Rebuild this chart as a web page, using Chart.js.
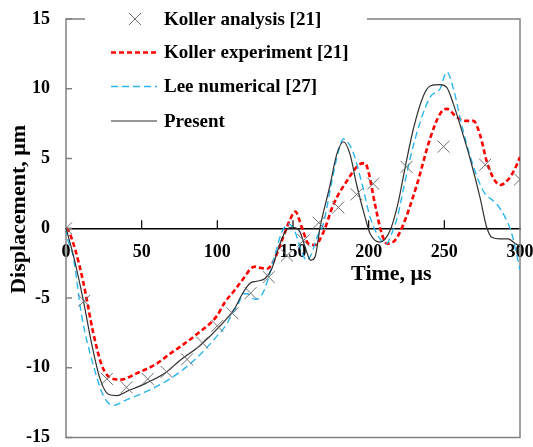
<!DOCTYPE html>
<html>
<head>
<meta charset="utf-8">
<script src="https://cdn.jsdelivr.net/npm/chart.js@4/dist/chart.umd.min.js"></script>
<style>
  html, body { margin: 0; padding: 0; background: #fff; }
  #plot { display: block; }
</style>
</head>
<body>
<canvas id="plot" width="533" height="447"></canvas>
<script>
"use strict";

const SERIF = "'Times New Roman', 'Liberation Serif', serif";

// axis ranges and ticks
const X_RANGE = [0, 300];
const X_STEP  = 50;
const Y_RANGE = [-15, 15];
const Y_STEP  = 5;

const SERIES_NAMES = ["Koller analysis [21]", "Koller experiment [21]", "Lee numerical [27]", "Present"];

// Koller analysis [21] (discrete points)
const kollerAnalysisT = [0, 12, 27, 40, 54, 66.5, 80, 90, 100, 110, 122, 134, 146, 157, 167, 180, 192, 203, 225, 249.5, 277, 300];
const kollerAnalysisU = [0, -5.2, -10.8, -11.4, -10.8, -10.3, -9.4, -8.2, -7.0, -6.1, -4.65, -3.5, -1.95, -0.87, 0.4, 1.5, 2.43, 3.2, 4.4, 5.85, 4.55, 3.5];

// Koller experiment [21]
const kollerExpT = [0, 1.5, 6, 11.5, 18, 23.6, 29, 35.7, 46.7, 60, 68.7, 75.3, 86.4, 99.6, 105, 111, 118, 122, 125, 129, 133, 137, 142.6, 148, 151.5, 155.8, 160.2, 164.6, 170, 176.7, 185.5, 194.3, 197.6, 199.8, 204.2, 208.7, 212, 217.4, 223, 231.8, 240.6, 247.2, 251.6, 258.2, 263.7, 269.2, 273.6, 278, 282.4, 286.8, 292.3, 296.8, 300];
const kollerExpU = [0, -0.15, -1.5, -3.9, -7.5, -9.8, -10.7, -10.85, -10.4, -9.7, -9.0, -8.5, -7.6, -6.3, -5.3, -4.5, -3.5, -2.9, -2.75, -2.85, -2.9, -2.4, -0.9, 0.6, 1.2, 0.07, -1.1, -1.2, -0.3, 1.7, 3.37, 4.6, 4.67, 4.08, 1.7, -0.4, -1.1, -0.87, 0.3, 3.1, 6.44, 8.2, 8.56, 7.97, 7.7, 7.7, 6.7, 4.8, 3.6, 3.1, 3.5, 4.3, 5.1];

// Lee numerical [27]
const leeT = [0, 0.4, 4.8, 10.4, 18, 24.7, 31.3, 40, 53.3, 68.7, 80, 90, 100, 106, 110, 113.9, 117.2, 120, 124.9, 129.3, 133.7, 138, 142.6, 147, 151.4, 155.8, 159, 162, 166, 170, 175, 180, 183.3, 186, 189.9, 195.8, 201, 207.5, 212, 214, 219, 222, 227.4, 234, 240.6, 247.2, 251.6, 256, 261.5, 268.1, 275.8, 284.7, 290.2, 294.6, 300];
const leeU = [0, -0.4, -2.05, -6.3, -9.8, -12.0, -12.7, -12.3, -11.7, -10.8, -9.9, -8.9, -7.7, -6.9, -6.1, -5.4, -4.7, -4.7, -5.1, -4.8, -3.6, -1.93, -0.28, 0.3, -0.28, -1.7, -2.3, -1.9, -0.6, 0.3, 3.0, 5.5, 6.4, 6.2, 5.4, 3.1, 0.78, -0.76, -1.1, -0.7, 0.8, 2.3, 5.0, 7.6, 9.4, 10.0, 11.2, 10.0, 7.4, 4.8, 2.67, 1.72, 0.78, -0.4, -3.0];

// Present
const presentT = [0, 5, 11.5, 17, 22.5, 28, 33.5, 40, 53, 66.5, 75, 88.6, 101.8, 111.7, 116, 121.6, 126, 131.5, 136, 140.3, 144.7, 149.2, 154.7, 158, 161.7, 164.6, 167.9, 174.5, 178.9, 183.3, 187.7, 192.1, 197.6, 201, 207.5, 214, 219, 224, 229.6, 236.2, 240.6, 247.2, 251.6, 256, 260.4, 267, 273.6, 278, 281.3, 286.8, 292.3, 296.8, 300];
const presentU = [0, -2.0, -5.2, -8.3, -10.8, -11.9, -12.0, -11.7, -11.1, -10.3, -9.5, -8.4, -7.0, -5.7, -4.8, -3.94, -3.8, -3.6, -2.9, -1.46, -0.28, 0.07, -0.28, -1.35, -2.3, -2.05, 0.07, 3.1, 5.3, 6.2, 5.3, 3.1, 0.8, -0.4, -1.0, -0.2, 1.6, 4.3, 7.15, 9.5, 10.2, 10.3, 10.1, 8.9, 7.4, 5.0, 2.2, 0.07, -0.64, -0.76, -0.76, -1.1, -1.3];

const pts = (t, u) => t.map((x, i) => ({ x, y: u[i] }));

const STYLES = [
  { color: "#6f6f6f", width: 1,   dash: [],     marker: true },
  { color: "#ff0000", width: 2.6, dash: [5, 3], marker: false },
  { color: "#2cb6ef", width: 1.4, dash: [7, 4], marker: false },
  { color: "#303030", width: 1.2, dash: [],     marker: false },
];

// plot frame, inward ticks and axis titles
const axisDecor = {
  id: "axisDecor",
  beforeDatasetsDraw(chart) {
    const { ctx, chartArea: a, scales: { x, y } } = chart;
    ctx.save();
    ctx.strokeStyle = "#808080";
    ctx.lineWidth = 1.5;
    ctx.strokeRect(a.left, a.top, a.right - a.left, a.bottom - a.top);
    // y ticks point into the plot
    for (let v = Y_RANGE[0]; v <= Y_RANGE[1]; v += Y_STEP) {
      const py = y.getPixelForValue(v);
      ctx.beginPath();
      ctx.moveTo(a.left, py);
      ctx.lineTo(a.left + 6, py);
      ctx.stroke();
    }
    // x ticks point up from the zero line
    const y0 = y.getPixelForValue(0);
    ctx.strokeStyle = "#000";
    ctx.lineWidth = 1.2;
    for (let v = X_RANGE[0] + X_STEP; v < X_RANGE[1]; v += X_STEP) {
      const px = x.getPixelForValue(v);
      ctx.beginPath();
      ctx.moveTo(px, y0);
      ctx.lineTo(px, y0 - 8);
      ctx.stroke();
    }
    ctx.restore();
  },
  afterDraw(chart) {
    const { ctx, scales: { x, y } } = chart;
    ctx.save();
    ctx.fillStyle = "#000";
    ctx.font = "bold 22px " + SERIF;
    ctx.textAlign = "center";
    ctx.textBaseline = "middle";
    ctx.fillText("Time, μs", x.getPixelForValue(215), y.getPixelForValue(0) + 46);
    ctx.translate(19, y.getPixelForValue(1.35));
    ctx.rotate(-Math.PI / 2);
    ctx.fillText("Displacement, μm", 0, 0);
    ctx.restore();
  }
};

// legend box sitting over the top-left of the frame
const legendBox = {
  id: "legendBox",
  afterDraw(chart) {
    const { ctx } = chart;
    const rows = [19, 52.5, 86.5, 121];
    ctx.save();
    ctx.fillStyle = "#fff";
    ctx.fillRect(85, 3, 282, 134);
    ctx.font = "bold 19px " + SERIF;
    ctx.textAlign = "left";
    ctx.textBaseline = "middle";
    rows.forEach((ry, i) => {
      const s = STYLES[i];
      ctx.strokeStyle = s.color;
      ctx.lineWidth = s.width;
      if (s.marker) {
        const r = 6;
        ctx.beginPath();
        ctx.moveTo(135 - r, ry - r); ctx.lineTo(135 + r, ry + r);
        ctx.moveTo(135 - r, ry + r); ctx.lineTo(135 + r, ry - r);
        ctx.stroke();
      } else {
        ctx.setLineDash(s.dash);
        ctx.beginPath();
        ctx.moveTo(111, ry); ctx.lineTo(157, ry);
        ctx.stroke();
        ctx.setLineDash([]);
      }
      ctx.fillStyle = "#000";
      ctx.fillText(SERIES_NAMES[i], 164, ry + 1);
    });
    ctx.restore();
  }
};

const series = [
  pts(kollerAnalysisT, kollerAnalysisU),
  pts(kollerExpT, kollerExpU),
  pts(leeT, leeU),
  pts(presentT, presentU),
];

const datasets = series.map((data, i) => {
  const s = STYLES[i];
  if (s.marker) {
    return { label: SERIES_NAMES[i], data, showLine: false, pointStyle: "crossRot",
      pointRadius: 8.5, borderColor: s.color, borderWidth: s.width, backgroundColor: s.color, order: 0 };
  }
  return { label: SERIES_NAMES[i], data, showLine: true, pointRadius: 0,
    borderColor: s.color, borderWidth: s.width, borderDash: s.dash,
    cubicInterpolationMode: "monotone", fill: false, order: 4 - i };
});

const tickFont = { family: SERIF, size: 18, weight: "bold" };

new Chart(document.getElementById("plot"), {
  type: "scatter",
  data: { datasets },
  options: {
    responsive: false,
    animation: false,
    layout: { padding: { top: 19, right: 13, bottom: 3, left: 0 } },
    plugins: { legend: { display: false }, tooltip: { enabled: false } },
    scales: {
      x: {
        type: "linear", min: X_RANGE[0], max: X_RANGE[1], position: { y: 0 },
        ticks: { stepSize: X_STEP, autoSkip: false, maxRotation: 0, color: "#000", font: tickFont, padding: 13 },
        grid: { display: false, drawTicks: false },
        border: { display: true, color: "#000", width: 1.5 },
        afterFit(s) { s.height = 0; s.paddingLeft = 0; s.paddingRight = 0; }
      },
      y: {
        type: "linear", min: Y_RANGE[0], max: Y_RANGE[1],
        ticks: { stepSize: Y_STEP, color: "#000", font: tickFont, padding: 16 },
        grid: { display: false, drawTicks: false },
        border: { display: false },
        // labels may hang over the canvas edges; keep the plot box fixed
        afterFit(s) { s.width = 66; s.paddingTop = 0; s.paddingBottom = 0; }
      }
    }
  },
  plugins: [axisDecor, legendBox]
});
</script>
</body>
</html>
